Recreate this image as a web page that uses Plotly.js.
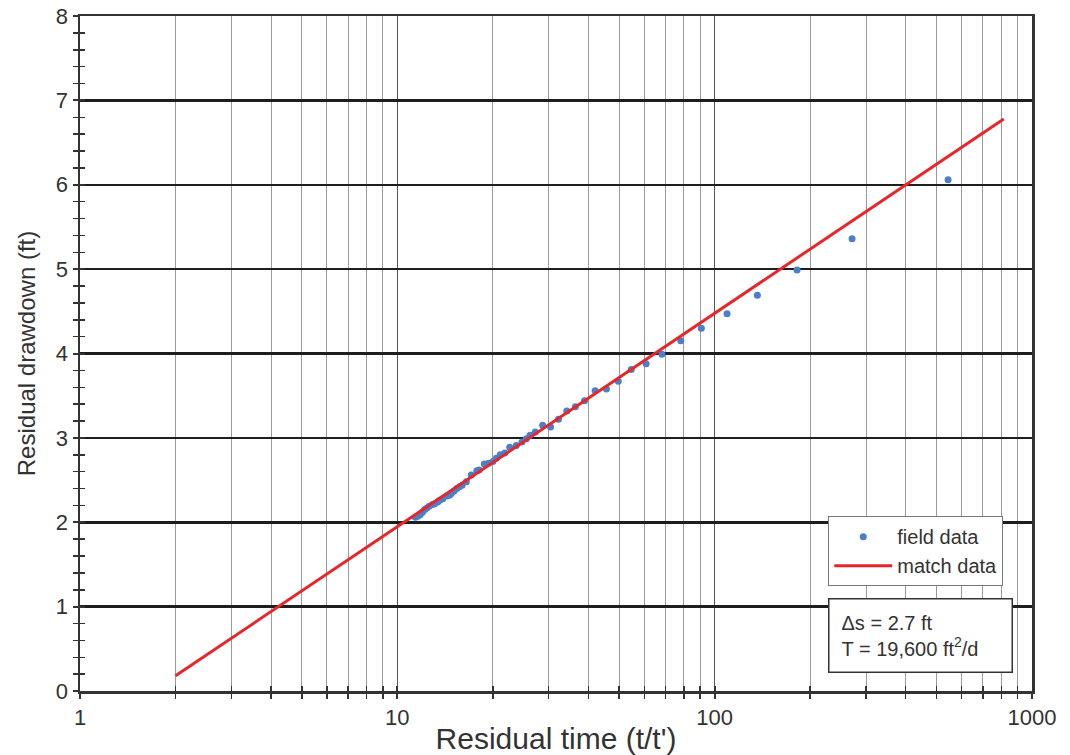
<!DOCTYPE html>
<html>
<head>
<meta charset="utf-8">
<script src="https://cdn.plot.ly/plotly-3.0.1.min.js"></script>
<style>
  html, body { margin: 0; padding: 0; background: #ffffff; }
  #chart { width: 1070px; height: 755px; }
</style>
</head>
<body>
<div id="chart"></div>
<script>
// Field data: residual time (t/t') and residual drawdown (ft)
const fieldTime = [11.4, 11.6, 11.8, 12.0, 12.2, 12.4, 12.6, 12.9, 13.1, 13.4,
  13.6, 13.9, 14.3, 14.6, 14.8, 15.1, 15.4, 15.7, 16.0, 16.5,
  17.1, 17.8, 18.1, 18.8, 19.4, 20.0, 20.5, 21.1, 21.8, 22.6,
  23.7, 24.7, 25.5, 26.2, 27.2, 28.7, 30.4, 32.2, 34.2, 36.4,
  38.9, 42.0, 45.6, 49.7, 54.6, 60.8, 68.2, 78.2, 90.8, 109.4,
  136.3, 181.8, 271, 544];
const fieldDrawdown = [2.06, 2.07, 2.09, 2.12, 2.15, 2.17, 2.19, 2.21, 2.22, 2.24,
  2.26, 2.28, 2.31, 2.32, 2.34, 2.37, 2.40, 2.42, 2.44, 2.48,
  2.56, 2.61, 2.62, 2.69, 2.70, 2.72, 2.76, 2.80, 2.82, 2.89,
  2.91, 2.95, 2.99, 3.03, 3.07, 3.15, 3.13, 3.22, 3.32, 3.37,
  3.44, 3.56, 3.58, 3.67, 3.81, 3.88, 3.99, 4.15, 4.30, 4.47,
  4.69, 4.99, 5.36, 6.06];

// Match (straight-line fit) data
const matchTime = [2, 815];
const matchDrawdown = [0.18, 6.78];

const seriesNames = ['field data', 'match data'];
const infoText = '\u0394s = 2.7 ft<br>T = 19,600 ft<sup>2</sup>/d';
const xTitle = "Residual time (t/t')";
const yTitle = 'Residual drawdown (ft)';

const fontFamily = '"Liberation Sans", Arial, sans-serif';
const textColor = '#333333';

const traces = [
  {
    x: fieldTime, y: fieldDrawdown, name: seriesNames[0],
    type: 'scatter', mode: 'markers',
    marker: { color: '#4a80c9', size: 7 },
    xaxis: 'x', yaxis: 'y'
  },
  {
    x: matchTime, y: matchDrawdown, name: seriesNames[1],
    type: 'scatter', mode: 'lines',
    line: { color: '#e8262a', width: 3 },
    xaxis: 'x', yaxis: 'y'
  },
  {
    x: [], y: [], type: 'scatter', mode: 'markers', showlegend: false,
    hoverinfo: 'skip', xaxis: 'x2', yaxis: 'y2'
  }
];

const layout = {
  width: 1070, height: 755,
  margin: { l: 80, r: 38, t: 16, b: 64, pad: 0 },
  paper_bgcolor: '#ffffff', plot_bgcolor: '#ffffff',
  font: { family: fontFamily, color: textColor, size: 22 },
  showlegend: true,
  xaxis: {
    type: 'log', range: [0, 3],
    tickmode: 'linear', tick0: 0, dtick: 1, exponentformat: 'none',
    showgrid: true, gridcolor: '#555555', gridwidth: 1.5,
    showline: true, linecolor: '#333333', linewidth: 2.5, mirror: true,
    ticks: 'outside', ticklen: 5, tickwidth: 2, tickcolor: '#333333',
    tickfont: { size: 22, color: textColor },
    minor: { dtick: 'D1', showgrid: true, gridcolor: '#9a9a9a', gridwidth: 1,
             ticks: 'outside', ticklen: 5, tickwidth: 1.5, tickcolor: '#333333' },
    zeroline: false,
    title: { text: xTitle, font: { size: 30, color: textColor }, standoff: 0 }
  },
  yaxis: {
    range: [0, 8], dtick: 1, tick0: 0,
    showgrid: true, gridcolor: '#1e1e1e', gridwidth: 2.5,
    showline: true, linecolor: '#333333', linewidth: 2.5, mirror: true,
    ticks: 'outside', ticklen: 5, tickwidth: 2, tickcolor: '#333333',
    tickfont: { size: 22, color: textColor },
    minor: { dtick: 0.2, showgrid: false, ticks: 'outside', ticklen: 5, tickwidth: 1.5, tickcolor: '#333333' },
    zeroline: false,
    title: { text: yTitle, font: { size: 24, color: textColor }, standoff: 14 }
  },
  xaxis2: {
    type: 'log', range: [0, 3], overlaying: 'x', anchor: 'y2', side: 'bottom',
    tickmode: 'linear', tick0: 0, dtick: 1,
    showgrid: false, showline: false, zeroline: false, showticklabels: false,
    ticks: 'inside', ticklen: 5, tickwidth: 2, tickcolor: '#333333',
    minor: { dtick: 'D1', showgrid: false, ticks: 'inside', ticklen: 5, tickwidth: 1.5, tickcolor: '#333333' }
  },
  yaxis2: {
    range: [0, 8], overlaying: 'y', anchor: 'x2', side: 'left', dtick: 1,
    showgrid: false, showline: false, zeroline: false, showticklabels: false,
    ticks: 'inside', ticklen: 5, tickwidth: 2, tickcolor: '#333333',
    minor: { dtick: 0.2, showgrid: false, ticks: 'inside', ticklen: 5, tickwidth: 1.5, tickcolor: '#333333' }
  },
  legend: {
    x: 0.786, xanchor: 'left', y: 0.259, yanchor: 'top',
    bgcolor: '#ffffff', bordercolor: '#777777', borderwidth: 1,
    itemwidth: 58,
    font: { size: 20, color: textColor }
  },
  annotations: [
    {
      xref: 'paper', yref: 'paper', x: 0.786, y: 0.138,
      xanchor: 'left', yanchor: 'top', align: 'left',
      text: infoText, showarrow: false,
      font: { size: 20, color: textColor },
      bgcolor: '#ffffff', bordercolor: '#333333', borderwidth: 1.5,
      borderpad: 12, width: 158
    }
  ]
};

Plotly.newPlot('chart', traces, layout, { displayModeBar: false, staticPlot: true });
</script>
</body>
</html>
